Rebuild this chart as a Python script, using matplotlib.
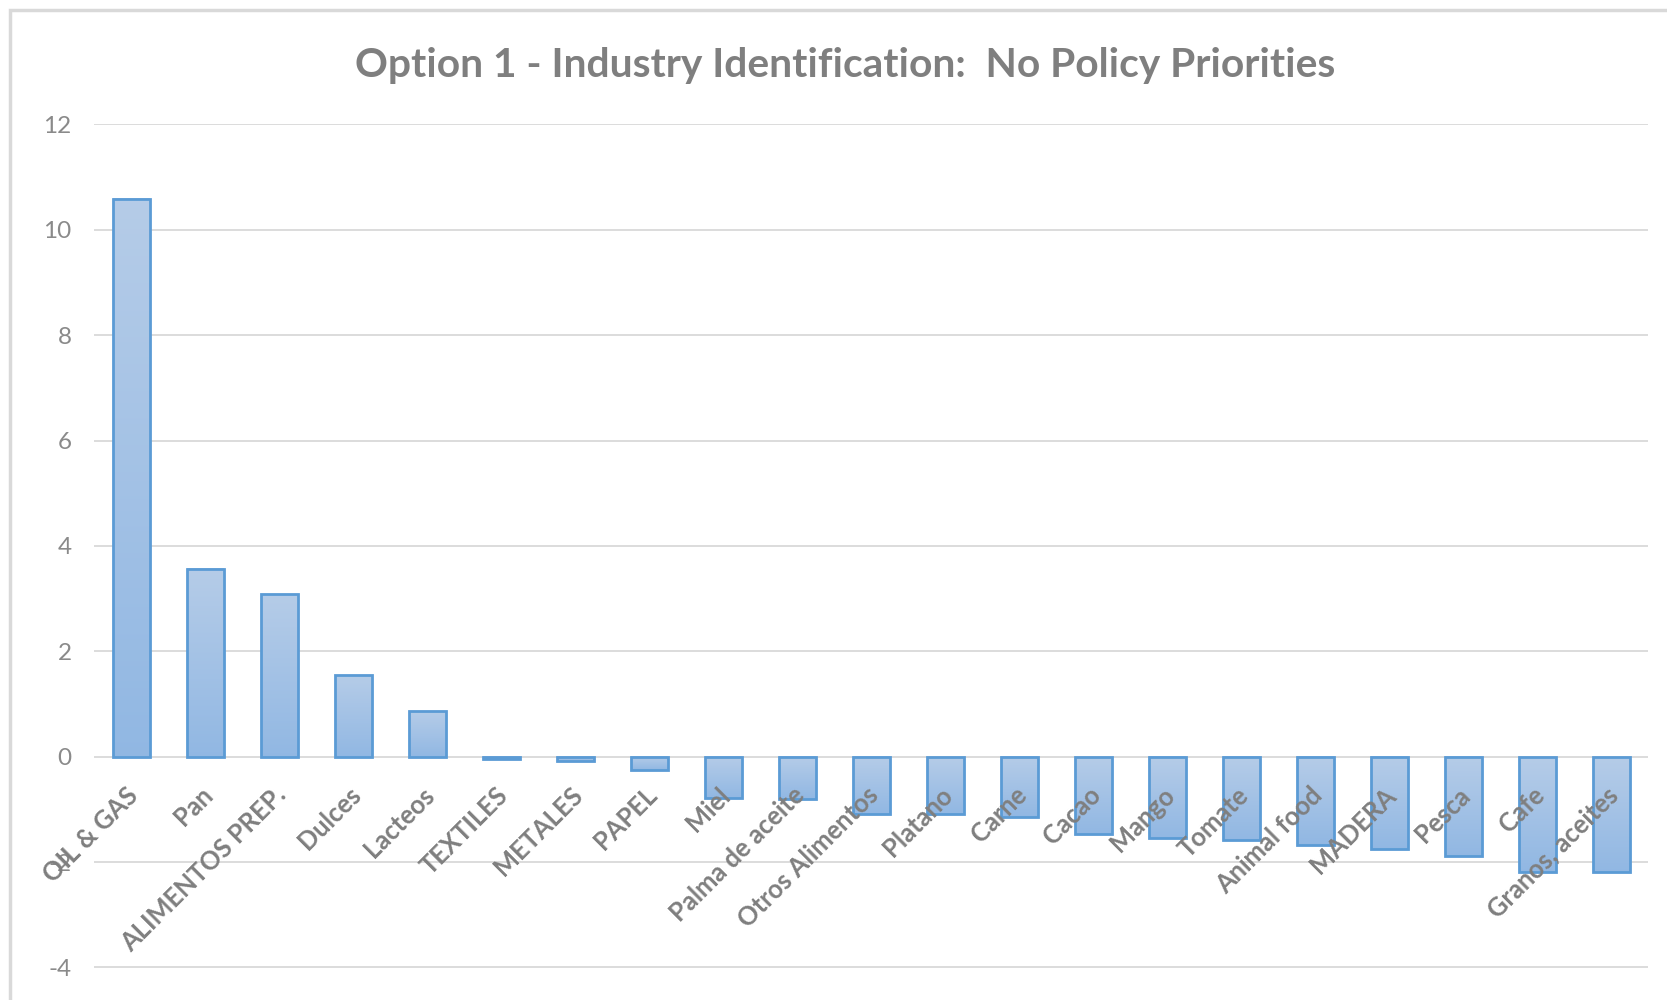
import numpy as np
import matplotlib.pyplot as plt
from matplotlib.patches import Rectangle
from matplotlib.transforms import offset_copy

## Data
industries = ['OIL & GAS', 'Pan', 'ALIMENTOS PREP.', 'Dulces', 'Lacteos', 'TEXTILES',
              'METALES', 'PAPEL', 'Miel', 'Palma de aceite', 'Otros Alimentos', 'Platano',
              'Carne', 'Cacao', 'Mango', 'Tomate', 'Animal food', 'MADERA', 'Pesca',
              'Cafe', 'Granos, aceites']
scores = [10.59, 3.57, 3.09, 1.55, 0.87, -0.05, -0.08, -0.25, -0.78, -0.80, -1.09, -1.08,
          -1.14, -1.46, -1.54, -1.58, -1.68, -1.75, -1.88, -2.18, -2.18]
yticks = [-4, -2, 0, 2, 4, 6, 8, 10, 12]
figtitle = 'Option 1 - Industry Identification:  No Policy Priorities'

## Style
edge_col = '#5b9bd5'
top_col = np.array([0.71, 0.80, 0.91])
bot_col = np.array([0.57, 0.72, 0.89])
text_col = '#7f7f7f'
grid_col = '#d9d9d9'
plt.rcParams['font.family'] = ['Lato', 'DejaVu Sans']

fig = plt.figure(figsize=(16.67, 10), dpi=100)
ax = fig.add_axes([94/1667, 0.022, (1648-94)/1667, 0.8536])

x = np.arange(len(industries))
bars = ax.bar(x, scores, width=0.5, facecolor='none', edgecolor=edge_col, linewidth=2, zorder=3)

# vertical gradient inside each bar (lighter at top)
grad = np.linspace(0, 1, 64)[:, None, None]
cmap_img = top_col[None, None, :] * (1 - grad) + bot_col[None, None, :] * grad
for b in bars:
    x0, w = b.get_x(), b.get_width()
    y0, h = b.get_y(), b.get_height()
    ylo, yhi = min(y0, y0 + h), max(y0, y0 + h)
    ax.imshow(cmap_img, extent=(x0, x0 + w, ylo, yhi), aspect='auto', zorder=2,
              interpolation='bilinear')

ax.set_xlim(-0.5, len(industries) - 0.5)
ax.set_ylim(-4.2, 12)
ax.set_yticks(yticks)
ax.set_yticklabels([str(t) for t in yticks], fontsize=17.5, color='#8a8a8a')
ax.yaxis.grid(True, color=grid_col, linewidth=1.3, zorder=0)
ax.tick_params(axis='y', length=0, pad=16)
ax.set_xticks([])
for s in ax.spines.values():
    s.set_visible(False)

# category labels hang just under the zero line, rotated 45 degrees
lab_tr = offset_copy(ax.transData, fig=fig, x=-5, y=-26, units='dots')
for i, name in enumerate(industries):
    ax.text(i, 0, name, transform=lab_tr, rotation=45, rotation_mode='anchor',
            ha='right', va='top', fontsize=18.4, fontweight='bold', color=text_col, zorder=4)

fig.text(0.507, 0.935, figtitle, ha='center', va='center', fontsize=29.3,
         fontweight='bold', color=text_col)

# chart frame (top and left edges visible)
fig.patches.append(Rectangle((10/1667, -0.1), 1.2, 1.1 - 10/1000, transform=fig.transFigure,
                             fill=False, edgecolor=grid_col, linewidth=2.5))

fig.savefig('out.png', dpi=100)
